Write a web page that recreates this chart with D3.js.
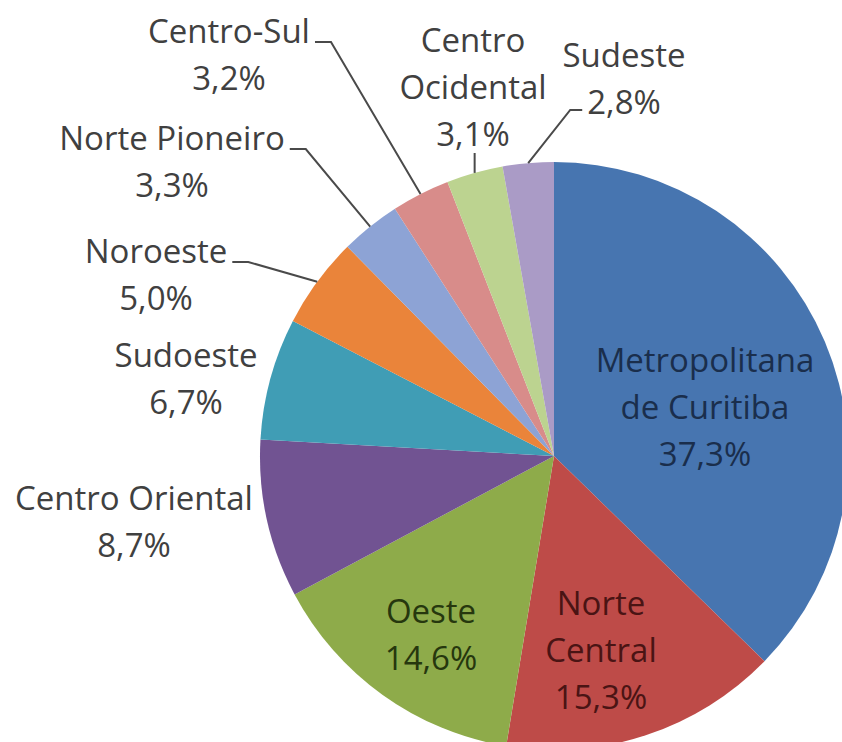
<!DOCTYPE html>
<html><head><meta charset="utf-8">
<script src="https://cdn.jsdelivr.net/npm/d3@7"></script>
<style>html,body{margin:0;padding:0;background:#fff;} svg{display:block}</style>
</head><body>
<svg id="chart" width="842" height="742"></svg>
<script>
// ---- data ----
const categories = ["Metropolitana de Curitiba","Norte Central","Oeste","Centro Oriental","Sudoeste","Noroeste","Norte Pioneiro","Centro-Sul","Centro Ocidental","Sudeste"];
const shares = [37.3, 15.3, 14.6, 8.7, 6.7, 5.0, 3.3, 3.2, 3.1, 2.8];
const valueLabels = ["37,3%","15,3%","14,6%","8,7%","6,7%","5,0%","3,3%","3,2%","3,1%","2,8%"];
const nameLines = [["Metropolitana","de Curitiba"],["Norte","Central"],["Oeste"],["Centro Oriental"],["Sudoeste"],["Noroeste"],["Norte Pioneiro"],["Centro-Sul"],["Centro","Ocidental"],["Sudeste"]];

// ---- style / layout ----
const sliceColors = ["#4775B0","#BE4B48","#8EAB4A","#715392","#409DB5","#EA843A","#8DA3D5","#D88C8A","#BCD390","#AA9BC6"];
const textColors = ["#1A2E4C","#4A1414","#26370E","#404040","#404040","#404040","#404040","#404040","#404040","#404040"];
const labelAnchor = [[705,372],[601,615],[431,623],[134,510],[186,367],[156,263],[172,150],[229,43],[473,52],[624,67]];
const leaderType = [null,null,null,null,null,"right","right","right","bottom","left"];
const cx = 554, cy = 456, R = 294;
const fontSize = 33, lineStep = 47;

const svg = d3.select("#chart");
const pie = d3.pie().sort(null).value(d => d)(shares);
const arc = d3.arc().innerRadius(0).outerRadius(R);
const edge = d3.arc().innerRadius(R).outerRadius(R);

const g = svg.append("g").attr("transform", `translate(${cx},${cy})`);
g.selectAll("path.slice").data(pie).join("path")
  .attr("class","slice")
  .attr("d", arc)
  .attr("fill", (d,i) => sliceColors[i]);

const labels = svg.append("g")
  .style("font-family", "'Open Sans', sans-serif")
  .style("font-size", fontSize + "px");

const leaders = svg.append("g").attr("fill","none").attr("stroke","#4a4a4a").attr("stroke-width",2);

pie.forEach((d,i) => {
  const lines = nameLines[i].concat([valueLabels[i]]);
  const [ax, ay] = labelAnchor[i];
  const t = labels.append("text").attr("text-anchor","middle").attr("fill", textColors[i]);
  const tspans = lines.map((s,k) => t.append("tspan").attr("x", ax).attr("y", ay + k*lineStep).text(s));
  const type = leaderType[i];
  if (!type) return;
  const [ex, ey] = edge.centroid(d);
  const px = cx + ex, py = cy + ey;
  let pts;
  if (type === "right") {
    const w = tspans[0].node().getComputedTextLength();
    const sx = ax + w/2 + 5, sy = ay - 1;
    pts = [[sx, sy],[sx + 16, sy],[px, py]];
  } else if (type === "left") {
    const last = tspans[tspans.length-1];
    const w = last.node().getComputedTextLength();
    const sx = ax - w/2 - 5, sy = ay + (tspans.length-1)*lineStep - 4;
    pts = [[sx, sy],[sx - 12, sy],[px, py]];
  } else {
    const sy = ay + (tspans.length-1)*lineStep + 7;
    pts = [[px, sy],[px, py]];
  }
  leaders.append("path").attr("d", d3.line()(pts));
});
</script>
</body></html>
